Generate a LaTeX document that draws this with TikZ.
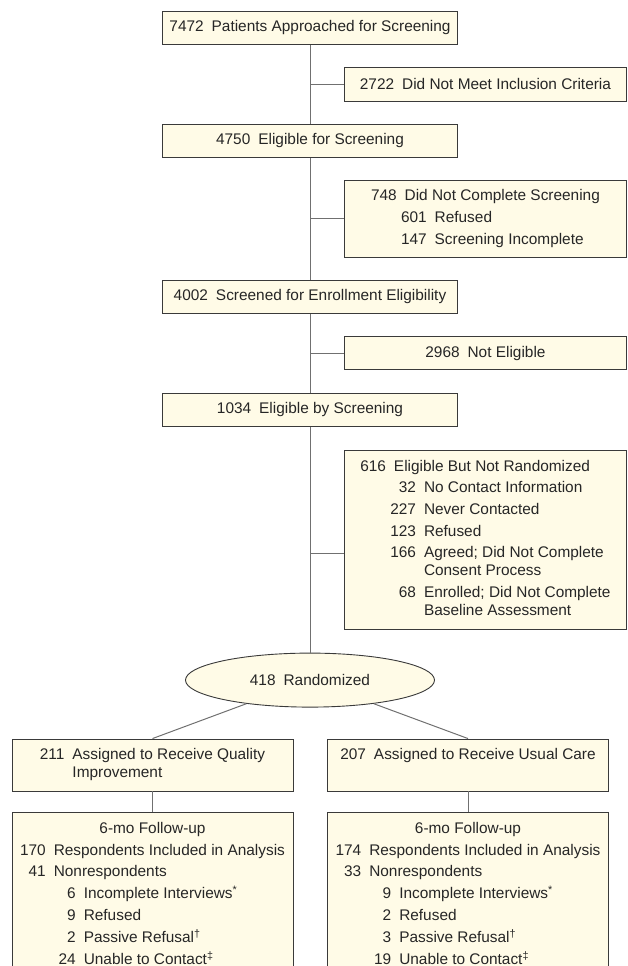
\documentclass[tikz,border=0pt]{standalone}
\usepackage{fontspec}
\setmainfont{Liberation Sans}
\usepackage{array}
\usepackage{xcolor}
\usetikzlibrary{positioning,shapes.geometric,calc}

\definecolor{boxfill}{RGB}{255,251,231}
\definecolor{boxline}{RGB}{58,58,58}
\definecolor{linkgray}{RGB}{112,112,112}
\newcommand{\numgap}{\hspace{8pt}}

\begin{document}
\begin{tikzpicture}[
  every node/.style={font=\fontsize{15.4}{18}\selectfont,text=black!85},
  flowbox/.style={draw=boxline,fill=boxfill,line width=0.9pt,inner xsep=0pt,inner ysep=8pt,align=center},
  mainbox/.style={flowbox,minimum width=295pt,minimum height=33pt},
  sidebox/.style={flowbox,minimum width=282pt,minimum height=33pt},
  armbox/.style={flowbox,minimum width=281pt,minimum height=52pt},
  randbox/.style={flowbox,ellipse,inner sep=0pt,minimum width=249pt,minimum height=54pt},
  link/.style={draw=linkgray,line width=1pt}]
  \useasboundingbox (0,0) rectangle (627pt,-966pt);
  \clip (0,0) rectangle (627pt,-966pt);

  % trunk
  \node[mainbox] (approached) at (310pt,-28pt) {7472\numgap Patients Approached for Screening};
  \node[mainbox,below=79pt of approached] (eligible) {4750\numgap Eligible for Screening};
  \node[mainbox,below=122pt of eligible] (screened) {4002\numgap Screened for Enrollment Eligibility};
  \node[mainbox,below=79pt of screened] (byscreen) {1034\numgap Eligible by Screening};
  \node[randbox,below=226pt of byscreen] (rand) {418\numgap Randomized};

  % exclusions
  \coordinate (b1) at ($(approached.south)!0.5!(eligible.north)$);
  \coordinate (b2) at ($(eligible.south)!0.5!(screened.north)$);
  \coordinate (b3) at ($(screened.south)!0.5!(byscreen.north)$);
  \coordinate (m4) at ($(byscreen.south)!0.5!(rand.north)$);
  \coordinate (b4) at ($(byscreen.south)!0.56!(rand.north)$);

  \node[sidebox,right=34pt of b1] (noinc) {2722\numgap Did Not Meet Inclusion Criteria};
  \node[sidebox,minimum height=77pt,right=34pt of b2] (notscreened) {%
    \begin{tabular}{@{}r@{\numgap}w{r}{22pt}@{\numgap}l@{}}
      748 & \multicolumn{2}{@{}l@{}}{Did Not Complete Screening}\\[3.7pt]
          & 601 & Refused\\[3.7pt]
          & 147 & Screening Incomplete
    \end{tabular}};
  \node[sidebox,right=34pt of b3] (noteligible) {2968\numgap Not Eligible};
  \node[sidebox,minimum height=179pt,right=34pt of m4] (notrand) {%
    \begin{tabular}{@{}r@{\numgap}w{r}{22pt}@{\numgap}l@{}}
      616 & \multicolumn{2}{@{}l@{}}{Eligible But Not Randomized}\\[3.7pt]
          & 32 & No Contact Information\\[3.7pt]
          & 227 & Never Contacted\\[3.7pt]
          & 123 & Refused\\[3.7pt]
          & 166 & Agreed; Did Not Complete\\
          &     & Consent Process\\[3.7pt]
          & 68 & Enrolled; Did Not Complete\\
          &    & Baseline Assessment
    \end{tabular}};

  % arms
  \node[armbox,below=31pt of rand,xshift=-157.5pt] (qi) {%
    \begin{tabular}{@{}r@{\numgap}l@{}}
      211 & Assigned to Receive Quality\\
          & Improvement
    \end{tabular}};
  \node[armbox,below=31pt of rand,xshift=158pt] (uc) {%
    \begin{tabular}{@{}l@{}}
      207\numgap Assigned to Receive Usual Care\\
      \mbox{}
    \end{tabular}};

  \node[flowbox,minimum width=281pt,below=21pt of qi] (qifu) {%
    \begin{tabular}{@{}r@{\numgap}w{r}{22pt}@{\numgap}l@{}}
      \multicolumn{3}{@{}c@{}}{6-mo Follow-up}\\[3.7pt]
      170 & \multicolumn{2}{@{}l@{}}{Respondents Included in Analysis}\\[3.7pt]
      41  & \multicolumn{2}{@{}l@{}}{Nonrespondents}\\[3.7pt]
          & 6 & Incomplete Interviews\textsuperscript{*}\\[3.7pt]
          & 9 & Refused\\[3.7pt]
          & 2 & Passive Refusal\textsuperscript{†}\\[3.7pt]
          & 24 & Unable to Contact\textsuperscript{‡}
    \end{tabular}};
  \node[flowbox,minimum width=281pt,below=21pt of uc] (ucfu) {%
    \begin{tabular}{@{}r@{\numgap}w{r}{22pt}@{\numgap}l@{}}
      \multicolumn{3}{@{}c@{}}{6-mo Follow-up}\\[3.7pt]
      174 & \multicolumn{2}{@{}l@{}}{Respondents Included in Analysis}\\[3.7pt]
      33  & \multicolumn{2}{@{}l@{}}{Nonrespondents}\\[3.7pt]
          & 9 & Incomplete Interviews\textsuperscript{*}\\[3.7pt]
          & 2 & Refused\\[3.7pt]
          & 3 & Passive Refusal\textsuperscript{†}\\[3.7pt]
          & 19 & Unable to Contact\textsuperscript{‡}
    \end{tabular}};

  \path[link] (approached) edge (eligible)
              (eligible) edge (screened)
              (screened) edge (byscreen)
              (byscreen) edge (rand);
  \path[link] (b1) edge (noinc)
              (b2) edge (notscreened)
              (b3) edge (noteligible)
              (b4) edge (b4 -| notrand.west);
  \path[link] (rand) edge (qi.north)
              (rand) edge (uc.north)
              (qi) edge (qifu)
              (uc) edge (ucfu);
\end{tikzpicture}
\end{document}
